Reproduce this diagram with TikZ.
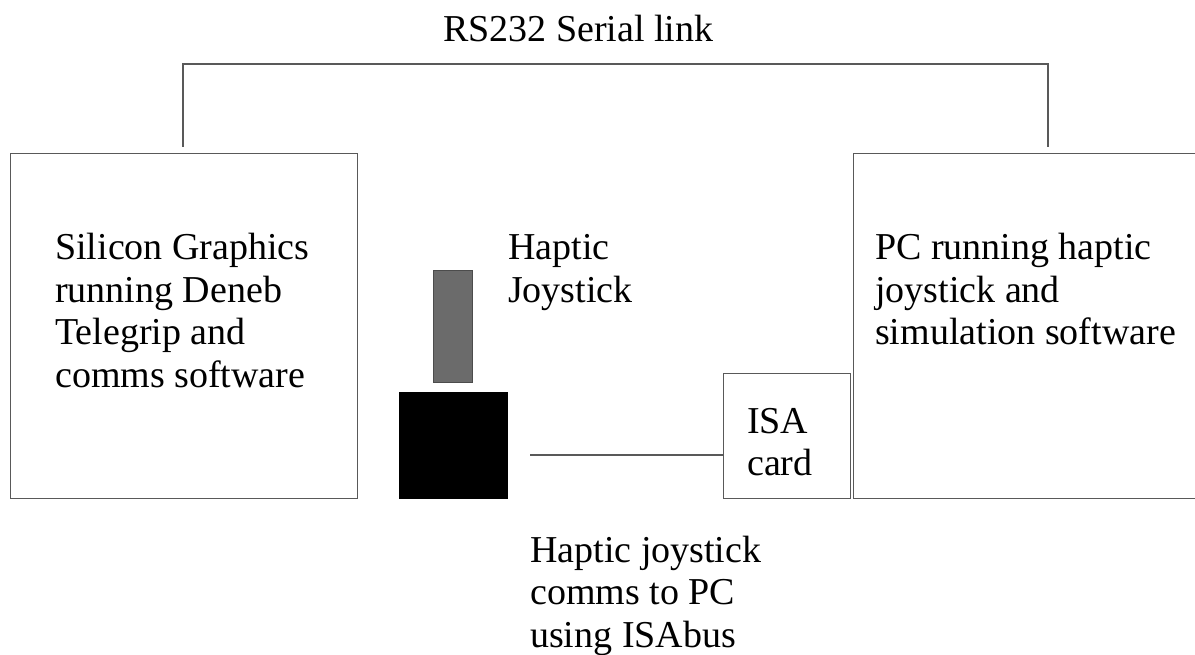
\documentclass[tikz,border=0pt]{standalone}
\usepackage{fontspec}
\setmainfont{Liberation Serif}
\newcommand{\stacklines}[1]{\begin{tabular}[t]{@{}l@{}}#1\end{tabular}}
\tikzset{
  frame/.style={draw=black!65, line width=1.3pt},
  wire/.style={draw=black!65, line width=1.3pt},
  label/.style={anchor=base west, inner sep=0pt, font=\fontsize{38}{42.5}\selectfont},
}
\begin{document}
\begin{tikzpicture}[x=1pt, y=-1pt]
  \useasboundingbox (0,0) rectangle (1195,655);
  \clip (0,0) rectangle (1195,655);
  \fill[white] (0,0) rectangle (1195,655);

  % computers
  \node[frame, minimum width=347pt, minimum height=345pt, anchor=north west, inner sep=0pt] (sg) at (10,153) {};
  \node[frame, minimum width=347pt, minimum height=345pt, anchor=north west, inner sep=0pt] (pc) at (853,153) {};

  % ISA card inside the PC
  \node[frame, minimum width=127pt, minimum height=125pt, anchor=north west, inner sep=0pt] (isa) at (723,373) {};

  % haptic joystick: base and stick
  \node[fill=black, draw=black, minimum width=108pt, minimum height=106pt, anchor=north west, inner sep=0pt] (base) at (399,392) {};
  \node[fill=black!58, draw=black!70, line width=0.8pt, minimum width=39pt, minimum height=112pt, anchor=north west, inner sep=0pt] (stick) at (433,270) {};

  % serial link between the two computers
  \coordinate (sgport) at (183,147);
  \coordinate (pcport) at (1048,147);
  \coordinate (linktop) at (0,64);
  \draw[wire] (sgport) -- (sgport |- linktop) -- (pcport |- linktop) -- (pcport);

  % ISA bus cable from the joystick to the card
  \coordinate (cable) at (530,455);
  \draw[wire] (cable) -- (cable -| isa.west);

  % labels
  \node[label] (link) at (443,42) {RS232 Serial link};
  \node[label] (sgtext) at (55,260) {\stacklines{Silicon Graphics\\running Deneb\\Telegrip and\\comms software}};
  \node[label] (pctext) at (875,260) {\stacklines{PC running haptic\\joystick and\\simulation software}};
  \node[label] (joytext) at (508,260) {\stacklines{Haptic\\Joystick}};
  \node[label] (isatext) at (747,433) {\stacklines{ISA\\card}};
  \node[label] (bustext) at (530,562) {\stacklines{Haptic joystick\\comms to PC\\using ISAbus}};
\end{tikzpicture}
\end{document}
